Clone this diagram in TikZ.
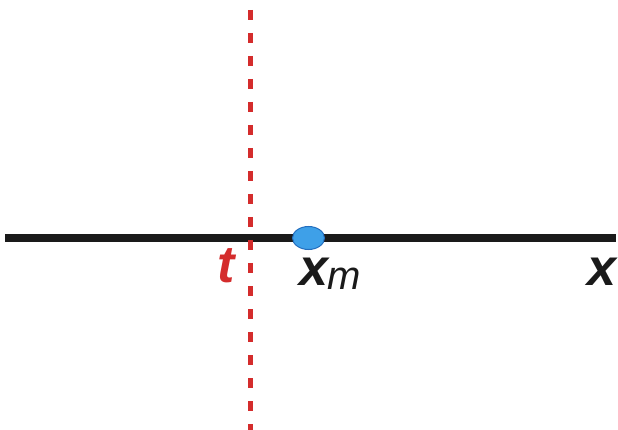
\documentclass[tikz,border=0pt]{standalone}
\usepackage{fontspec}
\usetikzlibrary{shapes.geometric}
\setmainfont{Liberation Sans}
\definecolor{lred}{RGB}{212,44,44}
\definecolor{lblue}{RGB}{62,160,232}
\definecolor{lblueline}{RGB}{36,110,190}
\definecolor{lblack}{RGB}{26,26,26}
\begin{document}
\begin{tikzpicture}[x=1pt,y=-1pt,
  lbl/.style={inner sep=0pt,outer sep=0pt,font=\fontsize{52}{52}\selectfont\bfseries\itshape},
  axisline/.style={line width=8pt,draw=lblack},
  tline/.style={line width=5pt,draw=lred,dash pattern=on 10pt off 13pt}]
\useasboundingbox (0,0) rectangle (618,430);
\coordinate (xl) at (5,238);
\coordinate (xr) at (616,238);
\coordinate (tt) at (250,10);
\coordinate (tb) at (250,432);
\draw[axisline] (xl) -- (xr);
\draw[tline] (tt) -- (tb);
\node[draw=lblueline,fill=lblue,line width=1pt,ellipse,minimum width=32pt,minimum height=23pt,inner sep=0pt] (pt) at (308.5,238) {};
\node[lbl,text=lred,anchor=base] (tl) at (226,283) {t};
\node[lbl,text=lblack,anchor=base west] (xm) at (299,285) {x\raisebox{-5pt}{\fontsize{40}{40}\selectfont\mdseries\itshape m}};
\node[lbl,text=lblack,anchor=base east] (xa) at (616,285) {x};
\end{tikzpicture}
\end{document}
